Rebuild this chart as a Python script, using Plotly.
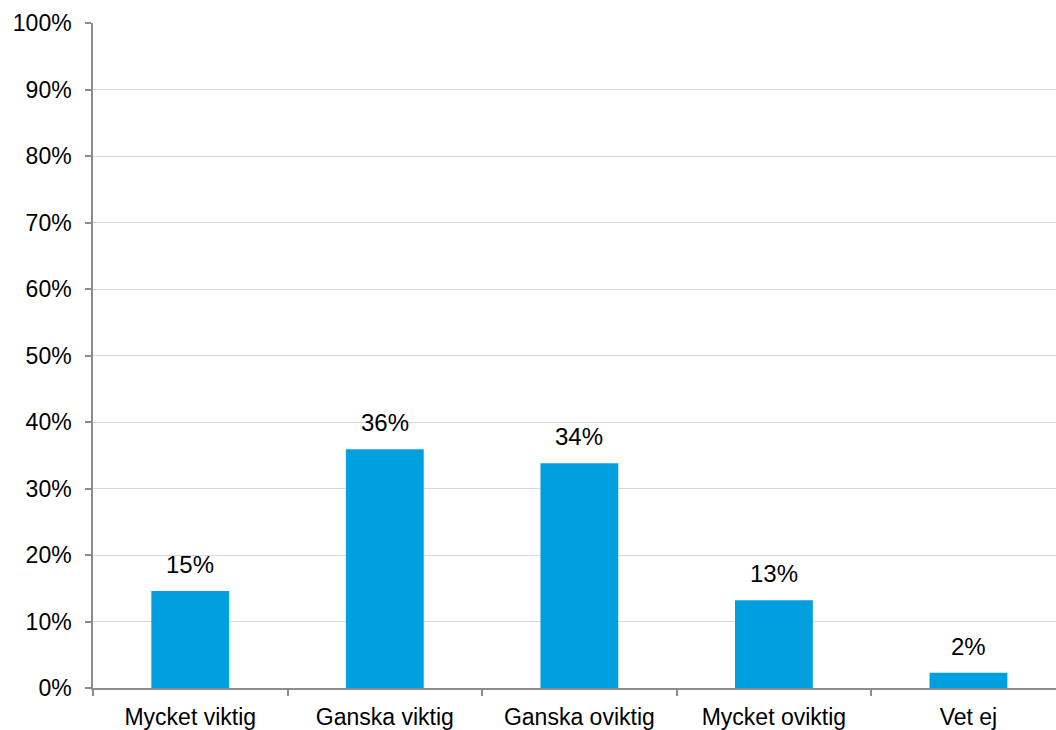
import plotly.graph_objects as go

categories = ["Mycket viktig", "Ganska viktig", "Ganska oviktig", "Mycket oviktig", "Vet ej"]
shares = [14.6, 35.9, 33.8, 13.2, 2.3]
y_ticks = list(range(0, 101, 10))
y_tick_labels = [f"{v}%" for v in y_ticks]

BAR_COLOR = "#009FDF"
FONT = "Liberation Sans, Arial, sans-serif"

fig = go.Figure(
    go.Bar(
        x=categories,
        y=shares,
        marker=dict(color=BAR_COLOR, line=dict(width=0)),
        width=0.4,
        hoverinfo="skip",
    )
)

for cat, val in zip(categories, shares):
    fig.add_annotation(
        x=cat, y=val, text=f"{val:.0f}%", showarrow=False,
        yanchor="bottom", yshift=11,
        font=dict(family=FONT, size=24, color="#000000"),
    )

fig.update_layout(
    width=1056, height=730,
    margin=dict(l=93, r=0, t=23, b=42),
    paper_bgcolor="white", plot_bgcolor="white",
    showlegend=False,
    font=dict(family=FONT, size=23, color="#000000"),
)

fig.update_xaxes(
    range=[-0.5, 4.45],
    showline=True, linecolor="#8c8c8c", linewidth=1.5,
    ticks="outside", ticklen=6, tickcolor="#8c8c8c", tickwidth=1.5,
    tickson="boundaries",
    showgrid=False,
    ticklabelstandoff=8,
    tickfont=dict(family=FONT, size=23, color="#000000"),
)

fig.update_yaxes(
    range=[0, 100],
    tickvals=y_ticks, ticktext=y_tick_labels,
    showline=True, linecolor="#8c8c8c", linewidth=1.5,
    ticks="outside", ticklen=6, tickcolor="#8c8c8c", tickwidth=1.5,
    showgrid=True, gridcolor="#d9d9d9", gridwidth=1,
    zeroline=False,
    ticklabelstandoff=9,
    tickfont=dict(family=FONT, size=23, color="#000000"),
)

fig.write_html("out.html")
